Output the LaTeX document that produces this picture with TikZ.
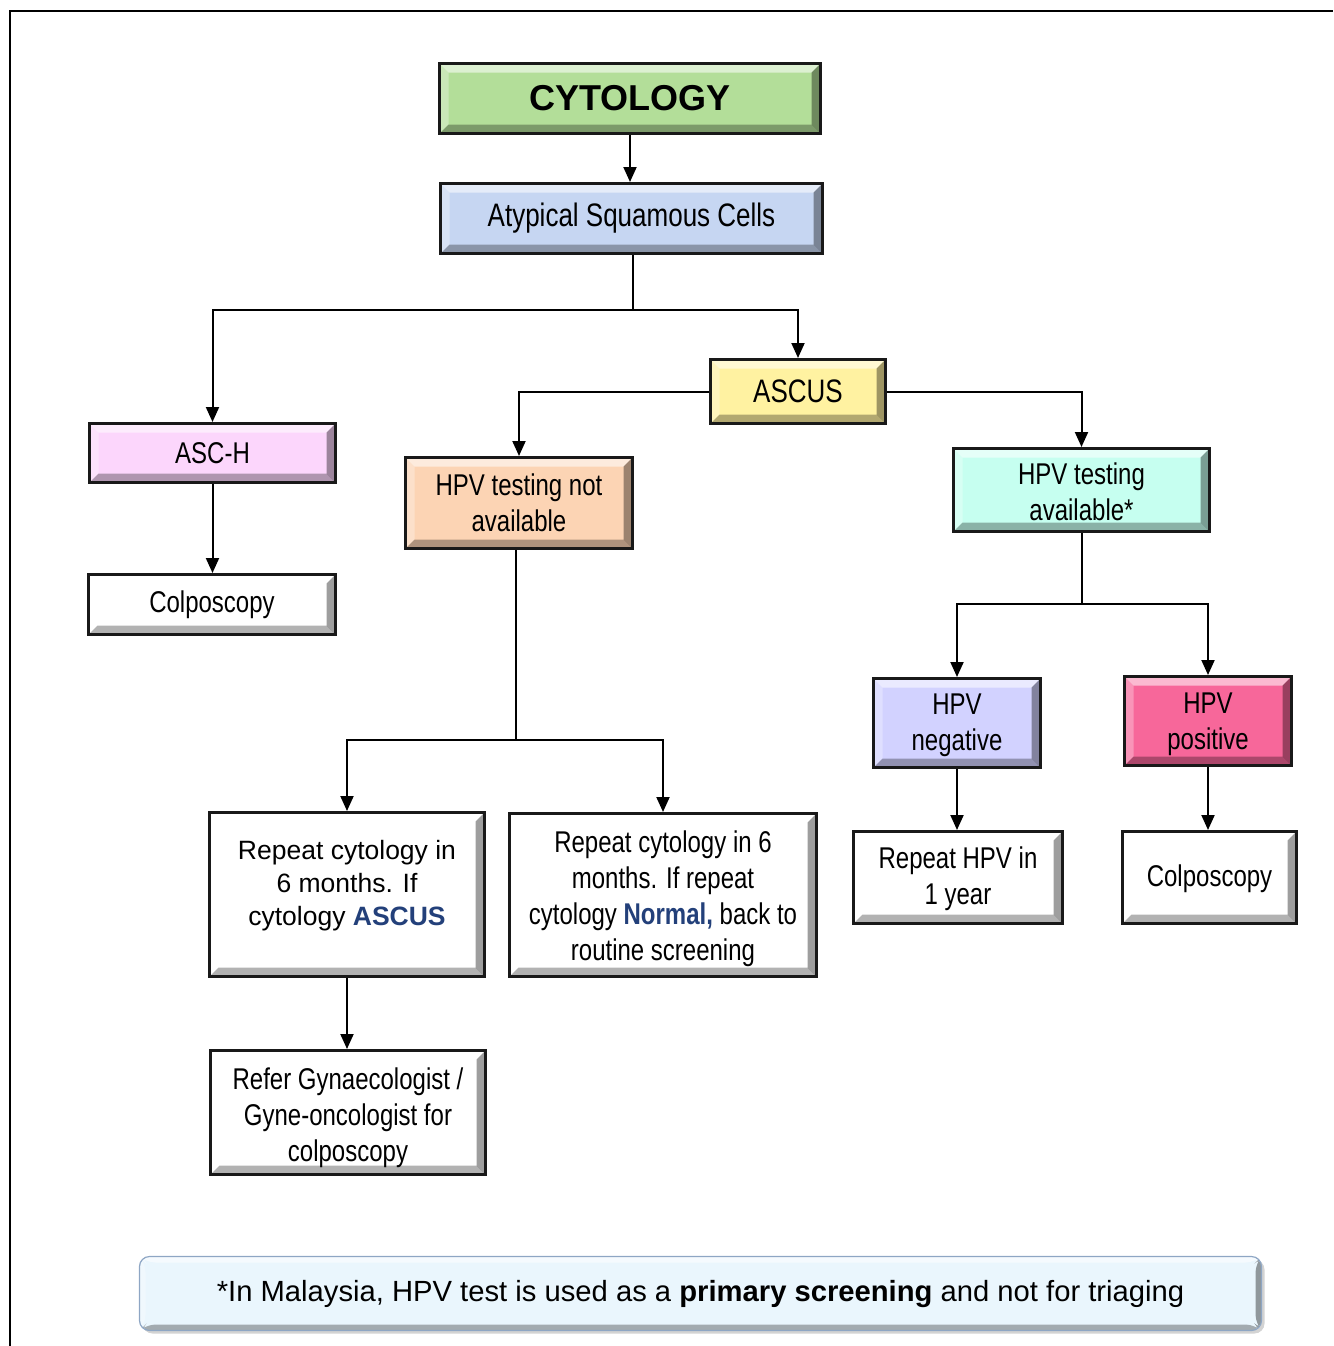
\documentclass[tikz,border=0pt]{standalone}
\usepackage{fontspec}
\setmainfont{Liberation Sans}
\newfontfamily\nar[FakeStretch=0.8]{Liberation Sans}
\usetikzlibrary{arrows.meta,shadows}
\definecolor{cgreen}{HTML}{B3DE99}
\definecolor{cblue}{HTML}{C6D6F2}
\definecolor{cyellow}{HTML}{FFF2A1}
\definecolor{cpink}{HTML}{FCD6FC}
\definecolor{cpeach}{HTML}{FCD4B4}
\definecolor{caqua}{HTML}{C6FFF0}
\definecolor{clav}{HTML}{D2D2FF}
\definecolor{cmag}{HTML}{F7679A}
\definecolor{navy}{HTML}{23407A}
\definecolor{footfill}{HTML}{EAF6FD}
\definecolor{footborder}{HTML}{8EA6C4}
\newcommand\dnlines[2]{\raisebox{-#1}[\height][\depth]{\begin{tabular}{@{}c@{}}#2\end{tabular}}}
\tikzset{
 bev/.style={path picture={
   \fill[white,opacity=.55] (path picture bounding box.north west) -- (path picture bounding box.north east) -- ([shift={(-#1,-#1)}]path picture bounding box.north east) -- ([shift={(#1,-#1)}]path picture bounding box.north west) -- cycle;
   \fill[white,opacity=.3] (path picture bounding box.north west) -- ([shift={(#1,-#1)}]path picture bounding box.north west) -- ([shift={(#1,#1)}]path picture bounding box.south west) -- (path picture bounding box.south west) -- cycle;
   \fill[black,opacity=.3] (path picture bounding box.south west) -- ([shift={(#1,#1)}]path picture bounding box.south west) -- ([shift={(-#1,#1)}]path picture bounding box.south east) -- (path picture bounding box.south east) -- cycle;
   \fill[black,opacity=.38] (path picture bounding box.south east) -- ([shift={(-#1,#1)}]path picture bounding box.south east) -- ([shift={(-#1,-#1)}]path picture bounding box.north east) -- (path picture bounding box.north east) -- cycle;
 }},
 box/.style={draw=black!90, line width=3pt, rectangle, inner sep=0pt, align=center, bev=9pt, fill=white,
   font=\nar\fontsize{30}{36}\selectfont},
 ln/.style={line width=2pt},
 arr/.style={ln,-{Triangle[width=13pt,length=15pt]}},
}
\begin{document}
\begin{tikzpicture}[x=1pt,y=-1pt]
\useasboundingbox (0,0) rectangle (1333,1346);
\draw[line width=2pt] (10,1346) -- (10,11) -- (1333,11);

\node[box, fill=cgreen, minimum width=381pt, minimum height=70pt, font=\bfseries\fontsize{36}{40}\selectfont] (cyt) at (630,98.5) {CYTOLOGY};
\node[box, fill=cblue, minimum width=382pt, minimum height=70pt, font=\nar\fontsize{32.5}{38}\selectfont] (asc) at (631.5,218.5) {Atypical Squamous Cells};
\node[box, fill=cyellow, minimum width=175pt, minimum height=64pt, font=\nar\fontsize{32.5}{38}\selectfont] (ascus) at (798,391.5) {ASCUS};
\node[box, fill=cpink, minimum width=246pt, minimum height=59pt] (asch) at (212.5,453) {ASC-H};
\node[box, minimum width=247pt, minimum height=60pt] (colL) at (212,604.5) {Colposcopy};
\node[box, fill=cpeach, minimum width=227pt, minimum height=91pt] (hna) at (519,503) {HPV testing not\\available};
\node[box, fill=caqua, minimum width=256pt, minimum height=83pt] (ha) at (1081.5,490) {\dnlines{5pt}{HPV testing\\available*}};
\node[box, fill=clav, minimum width=167pt, minimum height=89pt] (hneg) at (957,723) {\dnlines{2pt}{HPV\\negative}};
\node[box, fill=cmag, minimum width=167pt, minimum height=89pt] (hpos) at (1208,721) {\dnlines{3pt}{HPV\\positive}};
\node[box, minimum width=209pt, minimum height=92pt] (rhpv) at (958,877.5) {\dnlines{2pt}{Repeat HPV in\\1 year}};
\node[box, minimum width=174pt, minimum height=92pt] (colR) at (1209.5,877.5) {\dnlines{2pt}{Colposcopy}};
\node[box, minimum width=275pt, minimum height=164pt, font=\fontsize{26.5}{33}\selectfont] (rc1) at (347,894.5) {Repeat cytology in\\6 months. If\\cytology {\bfseries\color{navy}ASCUS}\\[-10pt]\mbox{}};
\node[box, minimum width=307pt, minimum height=163pt] (rc2) at (663,895) {\dnlines{4pt}{Repeat cytology in 6\\months. If repeat\\cytology {\bfseries\color{navy}Normal,} back to\\routine screening}};
\node[box, minimum width=275pt, minimum height=124pt] (ref) at (348,1112.5) {\dnlines{6pt}{Refer Gynaecologist /\\Gyne-oncologist for\\colposcopy}};

\node[draw=footborder, line width=1.2pt, rounded corners=10pt, fill=footfill, bev=6pt, inner sep=0pt,
  drop shadow={opacity=.35, shadow xshift=3pt, shadow yshift=-3pt},
  minimum width=1122pt, minimum height=74pt, font=\fontsize{29.2}{34}\selectfont] (foot) at (700.5,1293.5)
  {*In Malaysia, HPV test is used as a \textbf{primary screening} and not for triaging};

\coordinate (j1) at (633,310);
\coordinate (j2) at (516,740);
\coordinate (j3) at (1082,604);

\draw[arr] (cyt.south) -- (cyt.south |- asc.north);
\draw[ln] (j1 |- asc.south) -- (j1);
\draw[arr] (j1) -| (asch.north);
\draw[arr] (j1) -| (ascus.north);
\draw[arr] (ascus.west) -| (hna.north);
\draw[arr] (ascus.east) -| (ha.north);
\draw[arr] (asch.south) -- (asch.south |- colL.north);
\draw[ln] (j2 |- hna.south) -- (j2);
\draw[arr] (j2) -| (rc1.north);
\draw[arr] (j2) -| (rc2.north);
\draw[ln] (j3 |- ha.south) -- (j3);
\draw[arr] (j3) -| (hneg.north);
\draw[arr] (j3) -| (hpos.north);
\draw[arr] (hneg.south) -- (hneg.south |- rhpv.north);
\draw[arr] (hpos.south) -- (hpos.south |- colR.north);
\draw[arr] (rc1.south) -- (rc1.south |- ref.north);
\end{tikzpicture}
\end{document}
